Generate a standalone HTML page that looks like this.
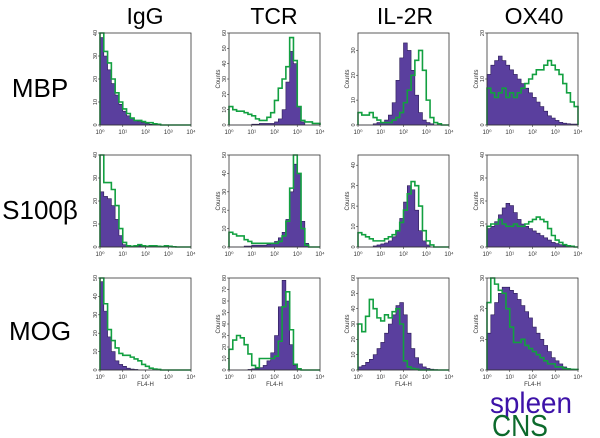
<!DOCTYPE html>
<html><head><meta charset="utf-8"><style>
body{margin:0;background:#fff;font-family:"Liberation Sans",sans-serif}
svg{display:block}
</style></head><body>
<svg id="fig" width="600" height="438" viewBox="0 0 600 438" xmlns="http://www.w3.org/2000/svg">
<g font-family="Liberation Sans, sans-serif" font-size="23" fill="#000" text-anchor="middle">
<text x="145" y="24">IgG</text>
<text x="274" y="24">TCR</text>
<text x="405" y="24">IL-2R</text>
<text x="534" y="24">OX40</text>
</g>
<g font-family="Liberation Sans, sans-serif" font-size="26" fill="#000" text-anchor="middle">
<text x="40" y="97">MBP</text>
<text x="40" y="219">S100β</text>
<text x="40" y="340">MOG</text>
</g>
<text x="490" y="413" font-size="30" fill="#3d12a8" textLength="82" lengthAdjust="spacingAndGlyphs">spleen</text>
<text x="492" y="436" font-size="31" fill="#0c6a2c" textLength="56" lengthAdjust="spacingAndGlyphs">CNS</text>
<g id="panels"></g>
</svg>
<script>
// 24 bins across 10^0..10^4 (1/6 decade each)
const decades = ["0","1","2","3","4"];
const yMaxes = [[40,60,37,20],[40,50,45,40],[50,80,60,30]];
const spleenData = [
 [[38,30,24,18,13,9,6,4,3,2,1.5,1,0.6,0.3,0.2,0,0,0,0,0,0,0,0,0],
  [0,0,0,0,0,0,0.5,0.5,1,1,1,1,2,4,10,28,48,40,12,2,0,0,0,0],
  [0,0,0,0,0.5,1,1,2,4,9,18,27,33,30,22,12,5,2,1,0.5,0,0,0,0],
  [11,13,14,15,14,13,12,11,10,9,8,7,6,5,4,3,2,1.5,1,0.6,0.4,0.3,0.2,0.2]],
 [[24,22,21,18,12,5,1,0.5,0.3,0.2,0.5,0.3,0.2,0.2,0.3,0.2,0.2,0.3,0.1,0,0,0,0,0],
  [0,0,0,0,0.5,0.5,1,1,1,1,1.5,2,3,5,8,15,30,45,40,14,2,0,0,0],
  [0,0,0,0,0.5,1,1.5,2,3,5,8,14,22,30,28,18,8,3,1,0,0,0,0,0],
  [8,9,11,14,17,19,18,15,12,10,9,8,7,6,5,4,3,2,1.5,1,0.5,0.3,0.2,0]],
 [[48,32,18,10,5,3,2,1,0.5,0.3,0,0,0,0,0,0,0,0,0,0,0,0,0,0],
  [0,0,0,0,0,0.5,1,1,2,4,8,15,30,55,78,60,22,4,1,0,0,0,0,0],
  [2,3,5,7,10,14,18,24,30,36,42,44,36,24,14,8,4,2,1,0.5,0.3,0,0,0],
  [12,18,22,25,27,27,26,25,23,21,19,17,14,12,10,8,6,4,3,2,1,0.5,0.3,0.2]]
];
const cnsData = [
 [[40,32,27,20,14,10,7,5,3,2,2,1.5,1,1,0.5,0.3,0,0,0,0,0,0,0,0],
  [12,10,9,9,8,7,6,4,3,3,5,8,16,24,30,38,57,42,12,3,2,2,1,1],
  [5,4,4,5,3,2,1,1,1,2,3,5,9,14,20,26,30,22,10,3,1,0.5,0,0],
  [8,7,6,7,8,6,7,6,7,8,9,10,11,12,12,13,14,13,12,11,9,7,5,4]],
 [[40,28,28,25,18,8,2,0.5,0.3,0.5,1,0.5,0.3,0.5,0.5,0.3,0.2,0.5,0.3,0.1,0,0,0,0],
  [8,7,6,6,4,3,2,2,2,2,2,2,2,3,6,14,32,50,40,10,1,0,0,0],
  [7,6,5,4,3,3,3,4,5,6,8,12,18,26,32,30,20,8,3,1,0,0,0,0],
  [9,10,10,12,10,9,9,10,9,9,10,11,12,13,12,11,8,5,3,2,1,0.5,0.3,0]],
 [[50,36,22,16,12,9,8,8,7,6,5,3,2,1,0.5,0.3,0,0,0,0,0,0,0,0],
  [18,26,30,28,22,14,4,2,10,10,10,10,12,25,55,68,35,5,1,0,0,0,0,0],
  [30,25,35,46,40,34,32,36,34,38,40,30,6,2,1,0.5,0,0,0,0,0,0,0,0],
  [22,30,28,26,25,20,14,9,9,10,8,7,6,5,4,3,2,2,1,1,0.5,0.3,0.2,0.2]]
];
const colX = [100,229,358,487], rowY = [33,155,278], W = 91, H = 92;
const NS = "http://www.w3.org/2000/svg";
const root = document.getElementById('panels');
function mk(tag, attrs, parent){const e=document.createElementNS(NS,tag);for(const k in attrs)e.setAttribute(k,attrs[k]);parent.appendChild(e);return e;}
for(let r=0;r<3;r++)for(let c=0;c<4;c++){
  const x0=colX[c], y0=rowY[r], ymax=yMaxes[r][c];
  const g=mk('g',{},root);
  
  
  const xs=i=>x0+W*i/24;
  const ys=v=>y0+H-H*Math.min(v,ymax)/ymax;
  function stepPath(arr,close){
    let d='M'+x0+','+(y0+H);
    arr.forEach((v,i)=>{d+=' L'+xs(i)+','+ys(v)+' L'+xs(i+1)+','+ys(v);});
    d+=' L'+(x0+W)+','+(y0+H);
    if(close)d+='Z';return d;
  }
  const sp=mk('path',{d:stepPath(spleenData[r][c],true),fill:'#5a3f9e',stroke:'#2a1a55','stroke-width':0.6},g);
  
  
  const cn=mk('path',{d:stepPath(cnsData[r][c],false),fill:'none',stroke:'#12a040','stroke-width':1.6},g);
  
  
  const bx=mk('rect',{x:x0,y:y0,width:W,height:H,fill:'none',stroke:'#333','stroke-width':0.8},g);
  
  
  decades.forEach((d,i)=>{
    const tx=x0+W*i/4;
    mk('line',{x1:tx,y1:y0+H,x2:tx,y2:y0+H+2,stroke:'#333','stroke-width':0.6},g);
    const t=mk('text',{x:tx,y:y0+H+9,'font-size':6,'text-anchor':'middle',fill:'#333'},g);
    t.textContent='10'+'⁰¹²³⁴'[i];
    
    
  });
  for(let k=0;k<=ymax;k+=10){
    const ty=ys(k);
    mk('line',{x1:x0-2,y1:ty,x2:x0,y2:ty,stroke:'#333','stroke-width':0.6},g);
    const t=mk('text',{x:x0-3,y:ty,'font-size':5.5,'text-anchor':'middle',fill:'#333',transform:'rotate(-90 '+(x0-3)+' '+ty+')'},g);
    t.textContent=k;
    
    
  }
  if(c>0){
    const t=mk('text',{x:x0-9,y:y0+H/2,'font-size':6,'text-anchor':'middle',fill:'#333',transform:'rotate(-90 '+(x0-9)+' '+(y0+H/2)+')'},g);
    t.textContent='Counts';
    
    
  }
  if(r===2){
    const t=mk('text',{x:x0+W/2,y:y0+H+16,'font-size':6,'text-anchor':'middle',fill:'#333'},g);
    t.textContent='FL4-H';
    
    
  }
}
</script>
</body></html>
